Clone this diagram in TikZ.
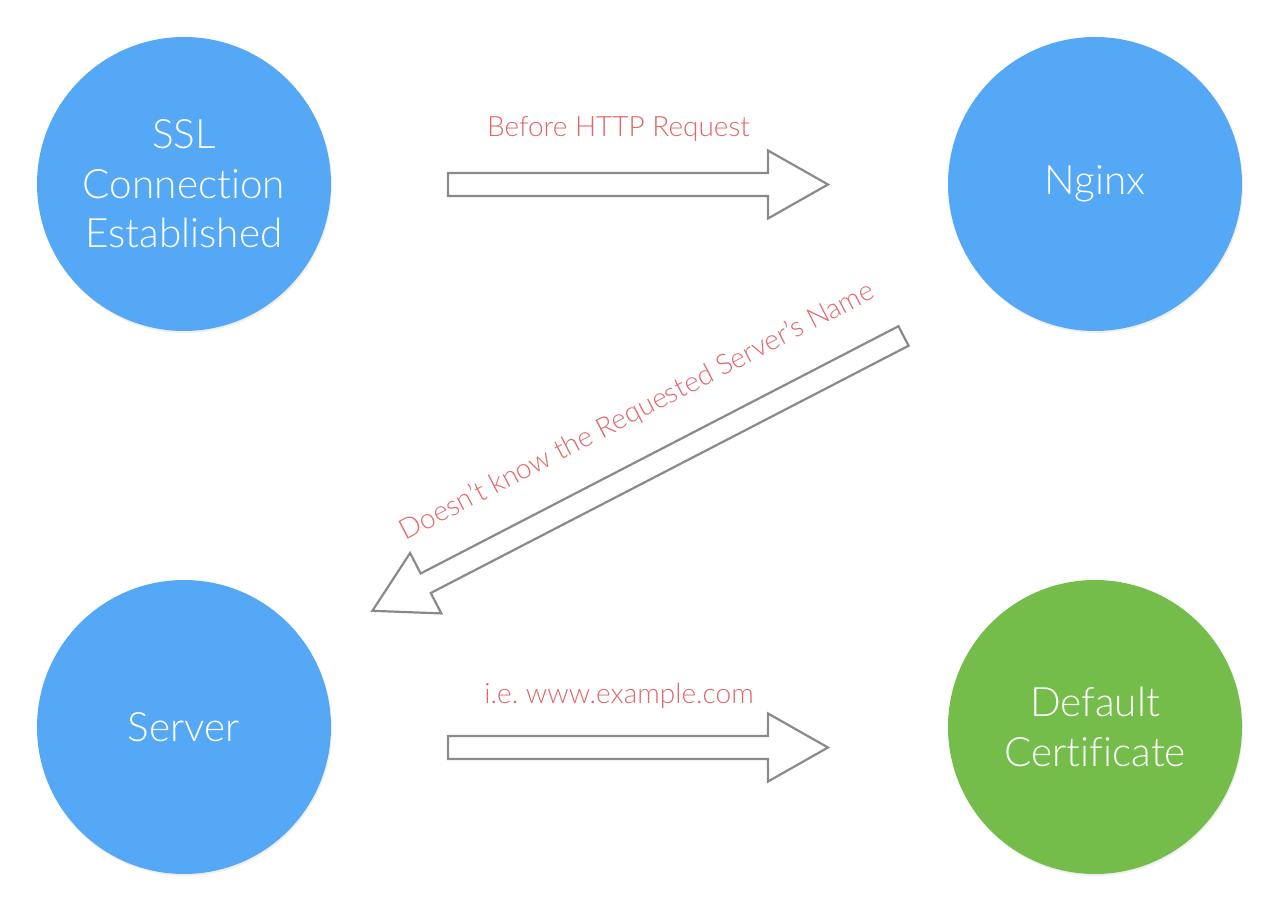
\documentclass[tikz,border=0pt]{standalone}
\usepackage{fontspec}
\setmainfont{Lato Light}[Ligatures=NoCommon]
\usetikzlibrary{shadows}
\definecolor{nodeblue}{RGB}{85,168,245}
\definecolor{nodegreen}{RGB}{116,189,74}
\definecolor{labelred}{RGB}{224,104,106}
\definecolor{arrowgray}{RGB}{138,138,140}
\frenchspacing
\begin{document}
\begin{tikzpicture}[x=1pt,y=1pt,
  bubble/.style={circle, minimum size=294pt, inner sep=0pt, text=white, align=center,
    font=\fontsize{40.5}{49.5}\selectfont,
    drop shadow={opacity=0.12, shadow xshift=1pt, shadow yshift=-2pt}},
  blockarrow/.style={draw=arrowgray, line width=2.2pt, fill=white, line join=miter},
  lbl/.style={text=labelred, font=\fontsize{28}{32}\selectfont, inner sep=0pt, anchor=base}]
\useasboundingbox (0,0) rectangle (1282,906);
\fill[white] (0,0) rectangle (1282,906);
\node[bubble, fill=nodeblue] (ssl) at (184,722) {SSL\\Connection\\Established};
\node[bubble, fill=nodeblue] (nginx) at (1095,722) {Nginx};
\node[bubble, fill=nodeblue] (server) at (184,179) {Server};
\node[bubble, fill=nodegreen] (cert) at (1095,179) {Default\\Certificate};
% block arrows
\draw[blockarrow, shift={(448,721.5)}] (0,-11.5) -- (320,-11.5) -- (320,-34) -- (380,0) -- (320,34) -- (320,11.5) -- (0,11.5) -- cycle;
\draw[blockarrow, shift={(448,158.5)}] (0,-11.5) -- (320,-11.5) -- (320,-34) -- (380,0) -- (320,34) -- (320,11.5) -- (0,11.5) -- cycle;
\draw[blockarrow, shift={(903.5,570)}, rotate=207.36] (0,-11) -- (538,-11) -- (538,-34) -- (598,0) -- (538,34) -- (538,11) -- (0,11) -- cycle;
% labels
\node[lbl] (l1) at (618.5,769) {Before HTTP Request};
\node[lbl, rotate=27.36] (l2) at (641,487) {Doesn’t know the Requested Server’s Name};
\node[lbl] (l3) at (619,203) {i.e. www.example.com};
\end{tikzpicture}
\end{document}
